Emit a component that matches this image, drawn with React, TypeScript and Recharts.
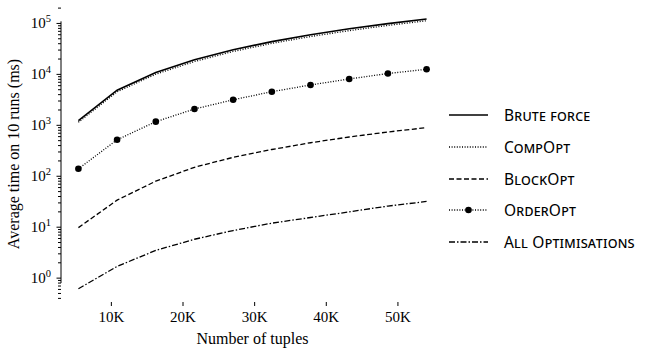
import { Label, Line, LineChart, ReferenceLine, XAxis, YAxis } from 'recharts';

const tuples = [5400, 10800, 16200, 21600, 27000, 32400, 37800, 43200, 48600, 54000];
const bruteForce = [1230, 4900, 10900, 19300, 30500, 44000, 60000, 78500, 99000, 122000];
const compOpt = [1150, 4550, 10100, 17900, 28200, 40600, 55300, 72300, 91500, 113000];
const blockOpt = [9.8, 34, 80, 150, 235, 335, 455, 590, 740, 900];
const orderOpt = [140, 520, 1180, 2090, 3170, 4570, 6200, 8130, 10400, 12600];
const allOpt = [0.62, 1.7, 3.5, 5.8, 8.6, 12, 15.5, 20, 26, 32];

const seriesNames = ['Brute force', 'CompOpt', 'BlockOpt', 'OrderOpt', 'All Optimisations'];
const seriesDash = ['', '1 1.6', '5 2.5', '1 1.6', '6 2 1.5 2'];
const xTicks = [10000, 20000, 30000, 40000, 50000];
const yMajor = [1, 10, 100, 1000, 10000, 100000];

const X_DOMAIN = [2970, 56430];
const Y_DOMAIN = [0.34, 2.2e5];

const yTicks: number[] = [];
[0.1, ...yMajor].forEach((m) => {
  for (let k = 1; k <= 9; k++) {
    const v = m * k;
    if (v >= Y_DOMAIN[0] && v <= Y_DOMAIN[1]) yTicks.push(v);
  }
});

const data = tuples.map((t, i) => ({
  t,
  brute: bruteForce[i],
  comp: compOpt[i],
  block: blockOpt[i],
  order: orderOpt[i],
  all: allOpt[i],
}));

const serif = '"Liberation Serif", "Times New Roman", serif';
const sans = '"Noto Sans", "Open Sans", sans-serif';

function YTick(props: any) {
  const { x, y, payload } = props;
  const lg = Math.log10(payload.value);
  const e = Math.round(lg);
  const major = Math.abs(lg - e) < 1e-6;
  return (
    <g>
      <line x1={x - (major ? 4.5 : 3)} x2={x} y1={y} y2={y} stroke="#000" strokeWidth={1} />
      {major && (
        <text x={x - 10} y={y + 5} textAnchor="end" fontFamily={serif} fontSize={15} fill="#000">
          10
          <tspan dy={-6} fontSize={10.5}>
            {e}
          </tspan>
        </text>
      )}
    </g>
  );
}

function YTitle(props: any) {
  const { viewBox } = props;
  const cx = viewBox.x + 13;
  const cy = viewBox.y + viewBox.height / 2;
  return (
    <text
      x={cx}
      y={cy}
      transform={`rotate(-90, ${cx}, ${cy})`}
      textAnchor="middle"
      dominantBaseline="central"
      fontFamily={serif}
      fontSize={16}
      fill="#000"
    >
      Average time on 10 runs (ms)
    </text>
  );
}

function XTitle(props: any) {
  const { viewBox } = props;
  return (
    <text
      x={viewBox.x + viewBox.width / 2}
      y={viewBox.y + 42}
      textAnchor="middle"
      fontFamily={serif}
      fontSize={16}
      fill="#000"
    >
      Number of tuples
    </text>
  );
}

function LegendBox() {
  return (
    <div style={{ position: 'absolute', left: 449, top: 0 }}>
      {seriesNames.map((name, i) => (
        <div
          key={name}
          style={{
            position: 'absolute',
            top: 105 + i * 31.8,
            height: 20,
            display: 'flex',
            alignItems: 'center',
            whiteSpace: 'nowrap',
          }}
        >
          <svg width={40} height={20} style={{ display: 'block' }}>
            <line
              x1={0}
              x2={39}
              y1={10}
              y2={10}
              stroke="#000"
              strokeWidth={i === 0 ? 1.6 : 1.3}
              strokeDasharray={seriesDash[i] || undefined}
            />
            {i === 3 && <circle cx={19.5} cy={10} r={3.3} fill="#000" />}
          </svg>
          <span
            style={{
              marginLeft: 15,
              fontFamily: sans,
              fontSize: 15.5,
              fontVariant: 'small-caps',
              letterSpacing: 0.2,
              color: '#000',
            }}
          >
            {name}
          </span>
        </div>
      ))}
    </div>
  );
}

export default function App() {
  return (
    <div style={{ position: 'absolute', left: 0, top: 0, width: 654, height: 349, background: '#fff' }}>
      <LineChart width={654} height={349} data={data} margin={{ top: 6, right: 210, bottom: 0, left: 0 }}>
        <XAxis
          dataKey="t"
          type="number"
          domain={X_DOMAIN}
          ticks={xTicks}
          interval={0}
          allowDataOverflow
          axisLine={false}
          tickSize={4}
          tickMargin={5}
          tickLine={{ stroke: '#000', strokeWidth: 1 }}
          tickFormatter={(v: number) => `${v / 1000}K`}
          tick={{ fill: '#000', fontFamily: serif, fontSize: 15 }}
          height={47}
        >
          <Label content={XTitle} />
        </XAxis>
        <YAxis
          type="number"
          scale="log"
          domain={Y_DOMAIN}
          ticks={yTicks}
          interval={0}
          allowDataOverflow
          axisLine={false}
          tickLine={false}
          tickSize={0}
          tickMargin={0}
          tick={<YTick />}
          width={61}
        >
          <Label content={YTitle} />
        </YAxis>
        <ReferenceLine
          segment={[
            { x: X_DOMAIN[0], y: 0.8 },
            { x: X_DOMAIN[0], y: 1.1e5 },
          ]}
          stroke="#000"
          strokeWidth={1}
          ifOverflow="visible"
        />
        <Line dataKey="brute" stroke="#000" strokeWidth={1.6} dot={false} isAnimationActive={false} />
        <Line dataKey="comp" stroke="#000" strokeWidth={1.3} strokeDasharray="1 1.6" dot={false} isAnimationActive={false} />
        <Line dataKey="block" stroke="#000" strokeWidth={1.3} strokeDasharray="5 2.5" dot={false} isAnimationActive={false} />
        <Line
          dataKey="order"
          stroke="#000"
          strokeWidth={1.3}
          strokeDasharray="1 1.6"
          dot={{ r: 3.3, fill: '#000', stroke: '#000', strokeWidth: 0 }}
          isAnimationActive={false}
        />
        <Line dataKey="all" stroke="#000" strokeWidth={1.3} strokeDasharray="6 2 1.5 2" dot={false} isAnimationActive={false} />
      </LineChart>
      <LegendBox />
    </div>
  );
}
